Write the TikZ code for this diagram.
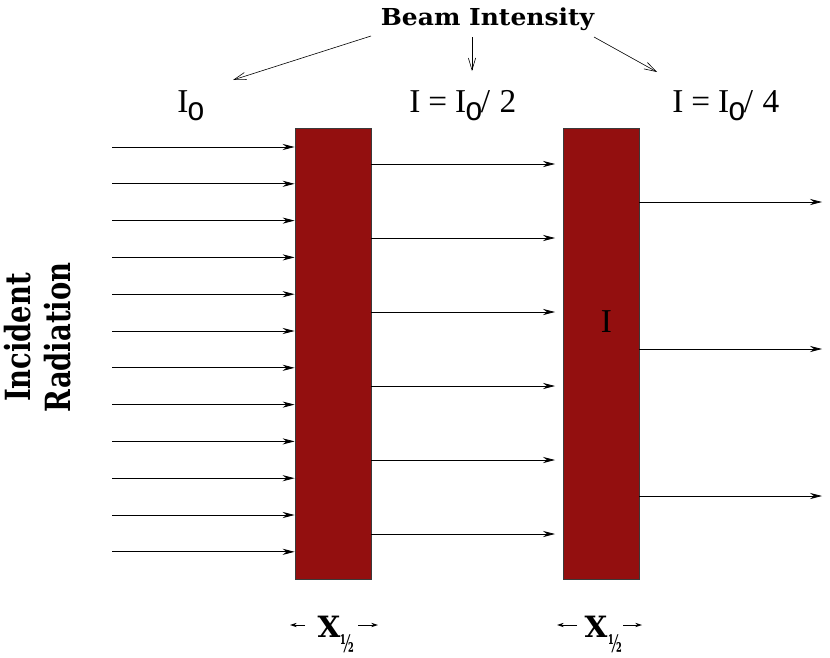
\documentclass[tikz,border=0pt]{standalone}
\usepackage{fontspec}
\setmainfont{Liberation Serif}
\newfontfamily\schfont{DejaVu Serif}
\newfontfamily\roundfont{Liberation Sans}
\usetikzlibrary{arrows.meta}
\definecolor{slabred}{HTML}{930F0F}
\definecolor{edgegray}{HTML}{3A3A3A}
\tikzset{
  slab/.style={draw=edgegray,fill=slabred,line width=.6pt,inner sep=0pt,
    minimum width=57pt,minimum height=338.25pt},
  ray/.style={-{Stealth[length=9pt,width=4.6pt]},line width=.6pt},
  pointer/.style={-{Straight Barb[length=9pt,width=5.5pt]},line width=.45pt},
  tick/.style={-{Stealth[length=5pt,width=3.2pt]},line width=.6pt},
  lbl/.style={font=\fontsize{25}{29}\selectfont,inner sep=0pt,anchor=base west},
  head/.style={font=\schfont\bfseries\fontsize{17.5}{20}\selectfont,inner sep=0pt},
  thick/.style={font=\schfont\bfseries\fontsize{22}{26}\selectfont,inner sep=0pt,anchor=base},
}
\newcommand{\Inot}{I\kern-.5pt\raisebox{-6pt}{\scalebox{.9}[1]{\roundfont\fontsize{25}{29}\selectfont o}}}
\newcommand{\Half}{\scalebox{.55}[1]{\schfont\bfseries\fontsize{18}{20}\selectfont ½}}

\begin{document}
\begin{tikzpicture}[x=.75pt,y=-.75pt]
  \useasboundingbox (0,0) rectangle (830,657);
  % absorber slabs
  \node[slab] (slab1) at (333,353.5) {};
  \node[slab] (slab2) at (601,353.5) {};
  \node[lbl,anchor=base] (inner) at (606.5,332) {I};
  % incident beam
  \foreach \i in {0,...,11}{
    \pgfmathsetmacro\yy{147+\i*36.8}
    \coordinate (src\i) at (112,\yy);
    \draw[ray] (src\i) -- (src\i -| slab1.west);
  }
  % after first slab
  \foreach \j in {0,...,5}{
    \pgfmathsetmacro\yy{164+\j*74}
    \coordinate (mid\j) at (555,\yy);
    \draw[ray] (mid\j -| slab1.east) -- (mid\j);
  }
  % after second slab
  \foreach \k in {0,...,2}{
    \pgfmathsetmacro\yy{202+\k*147}
    \coordinate (out\k) at (822,\yy);
    \draw[ray] (out\k -| slab2.east) -- (out\k);
  }
  % intensity labels
  \node[lbl] (lab0) at (177,112) {\Inot};
  \node[lbl] (lab1) at (409,112) {I\kern6pt=\kern6pt\Inot\kern-1pt/\kern7pt2};
  \node[lbl] (lab2) at (672,112) {I\kern6pt=\kern6pt\Inot\kern-1pt/\kern7pt4};
  \node[head,anchor=base] (beam) at (487.5,25) {\scalebox{1.07}[1]{Beam Intensity}};
  \coordinate (b0) at (371,36);
  \coordinate (b1) at (472,37);
  \coordinate (b2) at (594,37);
  \draw[pointer] (b0) -- (233,80);
  \draw[pointer] (b1) -- (472,71);
  \draw[pointer] (b2) -- (657,72);
  % side caption
  \node[rotate=90,inner sep=0pt] (incid) at (42,337.5)
    {\scalebox{.79}[1]{\schfont\bfseries\fontsize{26}{30}\selectfont
     \begin{tabular}{@{}c@{}}Incident\\Radiation\end{tabular}}};
  % half-value thickness
  \node[thick] (xa) at (329,637) {X};
  \node[thick] (xb) at (596,637) {X};
  \node[inner sep=0pt] (ha) at (347,644) {\Half};
  \node[inner sep=0pt] (hb) at (615,644) {\Half};
  \coordinate (la) at (290,625);
  \coordinate (ra) at (378,625);
  \coordinate (lb) at (557,625);
  \coordinate (rb) at (642,625);
  \draw[tick] (305,625) -- (la);
  \draw[tick] (358,625) -- (ra);
  \draw[tick] (577,625) -- (lb);
  \draw[tick] (623,625) -- (rb);
\end{tikzpicture}
\end{document}
